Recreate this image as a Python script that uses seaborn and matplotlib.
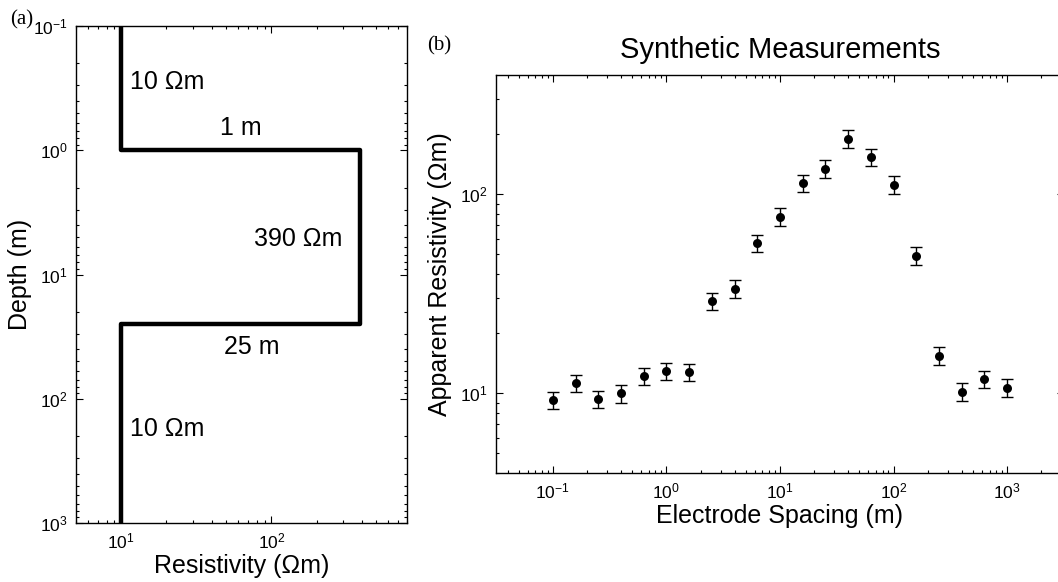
import numpy as np
import pandas as pd
import matplotlib
matplotlib.use("Agg")
import matplotlib.pyplot as plt
import seaborn as sns

# ---- data: layered model (panel a) ----
layer_top = [0.1, 1.0, 25.0]          # m
layer_bottom = [1.0, 25.0, 1000.0]    # m
layer_res = [10.0, 390.0, 10.0]       # Ohm m

# ---- data: synthetic measurements (panel b) ----
spacing = [0.1, 0.1585, 0.2512, 0.3981, 0.631, 1.0, 1.585, 2.512, 3.981, 6.31,
           10.0, 15.85, 25.12, 39.81, 63.1, 100.0, 158.5, 251.2, 398.1, 631.0, 1000.0]
app_res = [9.25, 11.3, 9.33, 10.0, 12.2, 12.95, 12.8, 29.0, 33.6, 56.9,
           77.3, 114.0, 134.6, 190.5, 153.5, 112.0, 49.2, 15.5, 10.2, 11.76, 10.7]
rel_err = 0.10

sns.set_theme(style="ticks")
plt.rcParams["font.family"] = ["Liberation Sans", "DejaVu Sans"]
plt.rcParams["mathtext.fontset"] = "custom"
plt.rcParams["mathtext.rm"] = "Liberation Sans"
plt.rcParams["mathtext.it"] = "Liberation Sans:italic"
plt.rcParams["mathtext.bf"] = "Liberation Sans:bold"
plt.rcParams["axes.unicode_minus"] = False
plt.rcParams["text.color"] = "black"
plt.rcParams["axes.labelcolor"] = "black"
plt.rcParams["axes.titlecolor"] = "black"
plt.rcParams["xtick.color"] = "black"
plt.rcParams["ytick.color"] = "black"
plt.rcParams["axes.linewidth"] = 1.0

fig = plt.figure(figsize=(10.58, 5.82), dpi=100)
W, H = 1058, 582
def axpos(x0, x1, y0, y1):
    return [x0 / W, 1 - y1 / H, (x1 - x0) / W, (y1 - y0) / H]

axa = fig.add_axes(axpos(76, 407, 26, 523))
axb = fig.add_axes(axpos(496, 1064, 75, 473))

# stair profile built from layers
prof_res, prof_depth = [], []
for t, b, r in zip(layer_top, layer_bottom, layer_res):
    prof_res += [r, r]
    prof_depth += [t, b]
prof = pd.DataFrame({"res": prof_res, "depth": prof_depth})
sns.lineplot(data=prof, x="res", y="depth", sort=False, estimator=None,
             color="black", linewidth=3.2, ax=axa)
axa.set_xscale("log")
axa.set_yscale("log")
axa.set_xlim(5, 800)
axa.set_ylim(1000, 0.1)
axa.set_xlabel("Resistivity (\u03a9m)", fontsize=18, labelpad=2)
axa.set_ylabel("Depth (m)", fontsize=18, labelpad=1)

txt = dict(fontsize=18, color="black")
axa.text(11.5, 0.28, "10 \u03a9m", ha="left", va="center", **txt)
axa.text(63, 0.66, "1 m", ha="center", va="center", **txt)
axa.text(150, 5.2, "390 \u03a9m", ha="center", va="center", **txt)
axa.text(74, 38.5, "25 m", ha="center", va="center", **txt)
axa.text(11.5, 176, "10 \u03a9m", ha="left", va="center", **txt)

# panel b
dfb = pd.DataFrame({"spacing": spacing, "rho": app_res})
axb.errorbar(dfb["spacing"], dfb["rho"], yerr=rel_err * dfb["rho"], fmt="none",
             ecolor="black", elinewidth=1.0, capsize=4.5, capthick=1.0, zorder=2)
sns.scatterplot(data=dfb, x="spacing", y="rho", color="black", s=42,
                edgecolor="black", linewidth=0, zorder=3, ax=axb)
axb.set_xscale("log")
axb.set_yscale("log")
axb.set_xlim(10 ** -1.5, 10 ** 3.5)
axb.set_ylim(10 ** 0.6, 10 ** 2.6)
axb.set_xlabel("Electrode Spacing (m)", fontsize=18, labelpad=2)
axb.set_ylabel("Apparent Resistivity (\u03a9m)", fontsize=18, labelpad=6)
axb.set_title("Synthetic Measurements", fontsize=21, pad=12)

for ax in (axa, axb):
    ax.tick_params(which="both", direction="in", top=True, right=True,
                   labelsize=12.5, colors="black", width=0.8)
    ax.tick_params(which="major", length=5, pad=6)
    ax.tick_params(which="minor", length=2.5)
    for s in ax.spines.values():
        s.set_visible(True)
        s.set_color("black")
        s.set_linewidth(1.0)
    ax.set_facecolor("white")

axb.set_xticks([0.1, 1, 10, 100, 1000])
axb.set_yticks([10, 100])

fig.text(10 / W, 1 - 20 / H, "(a)", fontsize=15, family="Liberation Serif",
         ha="left", va="center")
fig.text(427 / W, 1 - 46 / H, "(b)", fontsize=15, family="Liberation Serif",
         ha="left", va="center")

fig.savefig("out.png", dpi=100, facecolor="white")
